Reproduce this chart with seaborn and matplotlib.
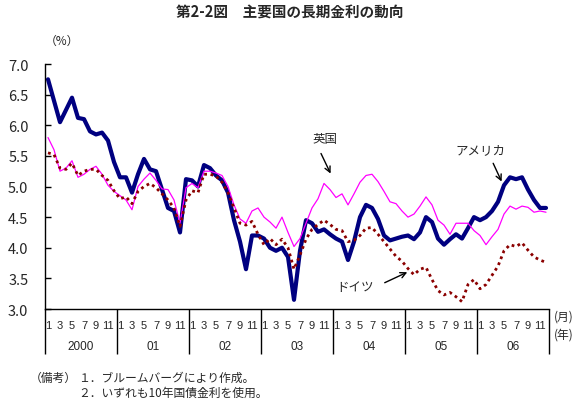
import numpy as np
import pandas as pd
import matplotlib
matplotlib.use("Agg")
import matplotlib.pyplot as plt
import matplotlib.transforms as mtransforms
import seaborn as sns

# monthly readings, Jan 2000 .. Dec 2006 (percent)
us = [6.75, 6.40, 6.05, 6.25, 6.45, 6.12, 6.10, 5.90, 5.85, 5.88, 5.75, 5.40,
      5.15, 5.15, 4.90, 5.20, 5.45, 5.28, 5.25, 4.95, 4.65, 4.60, 4.25, 5.12,
      5.10, 5.00, 5.35, 5.30, 5.18, 5.10, 4.90, 4.45, 4.10, 3.65, 4.20, 4.20,
      4.15, 4.00, 3.95, 4.00, 3.85, 3.15, 3.95, 4.45, 4.40, 4.26, 4.30, 4.22,
      4.15, 4.10, 3.80, 4.10, 4.50, 4.70, 4.65, 4.47, 4.20, 4.12, 4.15, 4.18,
      4.20, 4.14, 4.25, 4.50, 4.42, 4.15, 4.05, 4.14, 4.22, 4.15, 4.32, 4.50,
      4.45, 4.50, 4.60, 4.75, 5.02, 5.15, 5.12, 5.15, 4.95, 4.78, 4.65, 4.65]
uk = [5.80, 5.60, 5.25, 5.30, 5.42, 5.15, 5.20, 5.28, 5.33, 5.20, 5.02, 4.92,
      4.85, 4.78, 4.62, 5.00, 5.12, 5.22, 5.10, 4.96, 4.95, 4.78, 4.40, 4.98,
      5.05, 4.98, 5.25, 5.25, 5.22, 5.18, 5.00, 4.70, 4.47, 4.40, 4.60, 4.65,
      4.50, 4.42, 4.32, 4.50, 4.25, 4.02, 4.15, 4.40, 4.65, 4.80, 5.05, 4.95,
      4.82, 4.88, 4.70, 4.88, 5.07, 5.18, 5.20, 5.08, 4.92, 4.75, 4.72, 4.60,
      4.50, 4.55, 4.68, 4.83, 4.70, 4.45, 4.37, 4.22, 4.40, 4.40, 4.40, 4.28,
      4.20, 4.05, 4.18, 4.30, 4.55, 4.68, 4.63, 4.68, 4.66, 4.58, 4.60, 4.58]
de = [5.55, 5.52, 5.30, 5.28, 5.38, 5.18, 5.25, 5.28, 5.28, 5.18, 5.10, 4.93,
      4.80, 4.83, 4.72, 4.92, 5.00, 5.05, 4.98, 4.88, 4.78, 4.65, 4.35, 4.78,
      4.93, 4.90, 5.20, 5.20, 5.17, 5.07, 4.90, 4.65, 4.40, 4.37, 4.43, 4.22,
      4.05, 4.15, 4.05, 4.14, 4.00, 3.65, 3.88, 4.14, 4.30, 4.38, 4.45, 4.38,
      4.30, 4.28, 4.10, 4.12, 4.20, 4.32, 4.33, 4.22, 4.10, 3.98, 3.86, 3.78,
      3.66, 3.56, 3.65, 3.68, 3.48, 3.30, 3.23, 3.27, 3.20, 3.12, 3.40, 3.48,
      3.33, 3.40, 3.55, 3.70, 3.95, 4.05, 4.02, 4.08, 3.96, 3.85, 3.80, 3.76]

years = ["2000", "01", "02", "03", "04", "05", "06"]
month_labels = ["1", "3", "5", "7", "9", "11"]
yticks = [3.0, 3.5, 4.0, 4.5, 5.0, 5.5, 6.0, 6.5, 7.0]

months = np.arange(len(us)) + 0.5
df = pd.DataFrame({"m": months, "us": us, "uk": uk, "de": de})

sns.set_style("ticks")
plt.rcParams["font.family"] = ["Noto Sans CJK JP", "DejaVu Sans"]

W, H = 583, 402
fig = plt.figure(figsize=(W / 100, H / 100), dpi=100)
ax = fig.add_axes([45 / W, 1 - 310 / H, 504 / W, 245 / H])

sns.lineplot(data=df, x="m", y="us", color="#000080", lw=3.0, ax=ax)
sns.lineplot(data=df, x="m", y="uk", color="#ff00ff", lw=0.9, ax=ax)
sns.lineplot(data=df, x="m", y="de", color="#8b0000", lw=2.0, ls=(0, (1, 1.3)), ax=ax)

ax.set_xlim(0, 84)
ax.set_ylim(3.0, 7.0)
ax.set_xlabel("")
ax.set_ylabel("")
ax.set_yticks(yticks)
ax.set_yticklabels([f"{v:.1f}" for v in yticks], fontsize=10.5)
ax.tick_params(axis="y", direction="in", length=4, width=1, pad=12, color="black")
ax.spines["top"].set_visible(False)
ax.spines["right"].set_visible(False)
for s in ["left", "bottom"]:
    ax.spines[s].set_color("black")
    ax.spines[s].set_linewidth(1)

# month ticks in each year
xt, xl = [], []
for i in range(len(years)):
    for j, lab in enumerate(month_labels):
        xt.append(12 * i + 2 * j + 0.5)
        xl.append(lab)
ax.set_xticks(xt)
ax.set_xticklabels(xl, fontsize=8, family="Liberation Sans")
ax.tick_params(axis="x", length=0, pad=8)

trans = mtransforms.blended_transform_factory(ax.transData, ax.transAxes)
for i, yr in enumerate(years):
    ax.text(12 * i + 6, -0.152, yr, transform=trans, ha="center", va="center",
            fontsize=8.5, family="Liberation Sans")
ax.vlines([12 * i for i in range(len(years) + 1)], -0.184, 0, transform=trans,
          colors="black", lw=1, clip_on=False)

# labels for the series
ax.text(46.7, 5.78, "英国", ha="center", va="center", fontsize=9)
ax.annotate("", xy=(47.8, 5.17), xytext=(45.8, 5.58),
            arrowprops=dict(arrowstyle="->", lw=1, color="black"))
ax.text(72.5, 5.61, "アメリカ", ha="center", va="center", fontsize=9)
ax.annotate("", xy=(76.3, 5.04), xytext=(74.5, 5.42),
            arrowprops=dict(arrowstyle="->", lw=1, color="black"))
ax.text(51.7, 3.36, "ドイツ", ha="center", va="center", fontsize=9)
ax.annotate("", xy=(60.8, 3.62), xytext=(56.2, 3.41),
            arrowprops=dict(arrowstyle="->", lw=1, color="black"))

fig.text(290 / W, 1 - 13 / H, "第2-2図　主要国の長期金利の動向", ha="center", va="center",
         fontsize=10.5, fontweight="bold")
fig.text(62 / W, 1 - 41 / H, "（%）", ha="center", va="center", fontsize=8.5)
fig.text(554 / W, 1 - 317 / H, "(月)", ha="left", va="center", fontsize=8.5)
fig.text(554 / W, 1 - 335 / H, "(年)", ha="left", va="center", fontsize=8.5)
fig.text(30 / W, 1 - 378 / H, "（備考）", ha="left", va="center", fontsize=8.5)
fig.text(78 / W, 1 - 378 / H, "１．ブルームバーグにより作成。", ha="left", va="center", fontsize=8.5)
fig.text(78 / W, 1 - 393 / H, "２．いずれも10年国債金利を使用。", ha="left", va="center", fontsize=8.5)

fig.savefig("out.png", dpi=100)
